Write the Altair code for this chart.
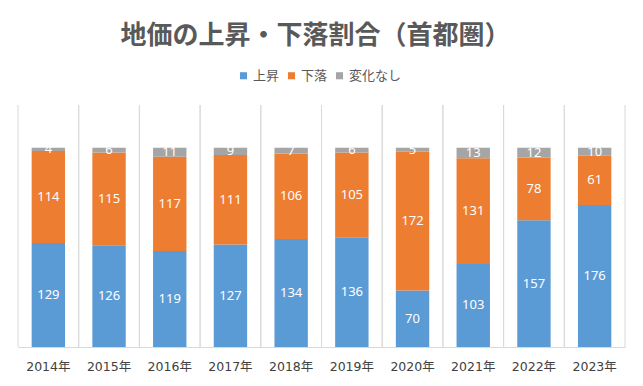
import altair as alt
import pandas as pd

years = ["2014年", "2015年", "2016年", "2017年", "2018年",
         "2019年", "2020年", "2021年", "2022年", "2023年"]
rise = [129, 126, 119, 127, 134, 136, 70, 103, 157, 176]
fall = [114, 115, 117, 111, 106, 105, 172, 131, 78, 61]
flat = [4, 6, 11, 9, 7, 6, 5, 13, 12, 10]
series = ["上昇", "下落", "変化なし"]
colors = ["#5B9BD5", "#ED7D31", "#A5A5A5"]

rows = []
for i, yr in enumerate(years):
    for k, (s, vals) in enumerate(zip(series, [rise, fall, flat])):
        rows.append({"year": yr, "series": s, "value": vals[i], "order": k})
df = pd.DataFrame(rows)
grid_df = pd.DataFrame({"year": years})

W, H = 607, 242
FONT = "Noto Sans CJK JP"

base = alt.Chart(df).transform_stack(
    stack="value", as_=["v0", "v1"], groupby=["year"],
    sort=[alt.SortField("order", order="ascending")]
).transform_calculate(mid="(datum.v0 + datum.v1) / 2")

xenc = alt.X(
    "year:N", sort=years,
    scale=alt.Scale(paddingInner=0, paddingOuter=0),
    axis=alt.Axis(title=None, labelAngle=0, ticks=False, grid=False,
                  bandPosition=0.5,
                  domainColor="#D9D9D9",
                  labelFont="'DejaVu Sans', 'Noto Sans CJK JP'",
                  labelFontSize=12.5,
                  labelColor="#404040", labelPadding=13),
)
yscale = alt.Scale(domain=[0, 300], nice=False, zero=True)

rules_l = alt.Chart(grid_df).mark_rule(color="#D9D9D9", strokeWidth=1).encode(
    x=alt.X("year:N", sort=years, bandPosition=0),
    y=alt.value(0), y2=alt.value(H),
)
rules_r = alt.Chart(grid_df).mark_rule(color="#D9D9D9", strokeWidth=1).encode(
    x=alt.X("year:N", sort=years, bandPosition=1),
    y=alt.value(0), y2=alt.value(H),
)

bars = base.mark_bar(width=alt.RelativeBandSize(0.55)).encode(
    x=xenc,
    y=alt.Y("v0:Q", scale=yscale, axis=None),
    y2="v1:Q",
    color=alt.Color(
        "series:N", scale=alt.Scale(domain=series, range=colors),
        legend=alt.Legend(
            title=None, orient="none", legendX=219, legendY=-36,
            direction="horizontal", symbolType="square", symbolSize=50,
            symbolStrokeWidth=0, labelFont=FONT, labelFontSize=13,
            labelColor="#595959", columnPadding=5, labelOffset=3,
        ),
    ),
)

labels = base.mark_text(color="white", font="Noto Sans", fontSize=13).encode(
    x=alt.X("year:N", sort=years),
    y=alt.Y("mid:Q", scale=yscale, axis=None),
    text="value:Q",
)

chart = alt.layer(bars, labels, rules_l, rules_r).properties(
    width=W, height=H,
    autosize=alt.AutoSizeParams(type="none"),
    padding={"left": 10, "top": 97, "right": 10, "bottom": 31},
    background="white",
    title=alt.Title(
        "地価の上昇・下落割合（首都圏）", font=FONT, fontSize=26,
        fontWeight="bold", color="#595959", anchor="middle",
        baseline="middle", offset=7, dx=-6,
    ),
).configure_view(stroke=None)

chart.save("out.html", embed_options={"renderer": "svg", "actions": False})
